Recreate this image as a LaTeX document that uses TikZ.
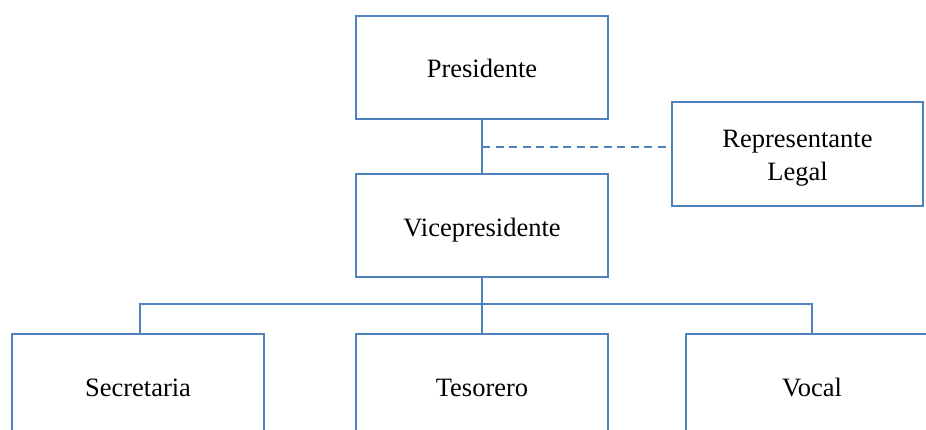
\documentclass[tikz,border=0pt]{standalone}
\usepackage{fontspec}
\setmainfont{Liberation Serif}
\definecolor{boxblue}{HTML}{4F81BD}
\begin{document}
\begin{tikzpicture}[x=1pt,y=-1pt,
  orgbox/.style={draw=boxblue, line width=2pt, rectangle, minimum width=251.5pt,
    minimum height=103.5pt, inner sep=0pt, font=\fontsize{26.5}{33.3}\selectfont,
    text height=21pt, text depth=0pt},
  link/.style={draw=boxblue, line width=2pt},
  dashlink/.style={draw=boxblue, line width=2pt, dash pattern=on 8pt off 5.5pt}]
\useasboundingbox (0,0) rectangle (926,430);
\node[orgbox] (pres) at (482,67.4) {Presidente};
\node[orgbox, text height=19pt] (rep) at (797.5,153.8) {\begin{tabular}{@{}c@{}}Representante\\Legal\end{tabular}};
\node[orgbox] (vice) at (482,225.7) {Vicepresidente};
\node[orgbox] (sec) at (138,385.5) {Secretaria};
\node[orgbox] (tes) at (482,385.5) {Tesorero};
\node[orgbox] (voc) at (812,385.5) {Vocal};
\coordinate (bus) at (482,303.7);
\coordinate (dashstart) at (482,147.3);
\draw[link] (pres.south) -- (vice.north);
\draw[dashlink] (dashstart) -- (dashstart -| rep.west);
\draw[link] (vice.south) -- (tes.north);
\draw[link] ([xshift=2pt]sec.north) |- (bus) -| (voc.north);
\end{tikzpicture}
\end{document}
